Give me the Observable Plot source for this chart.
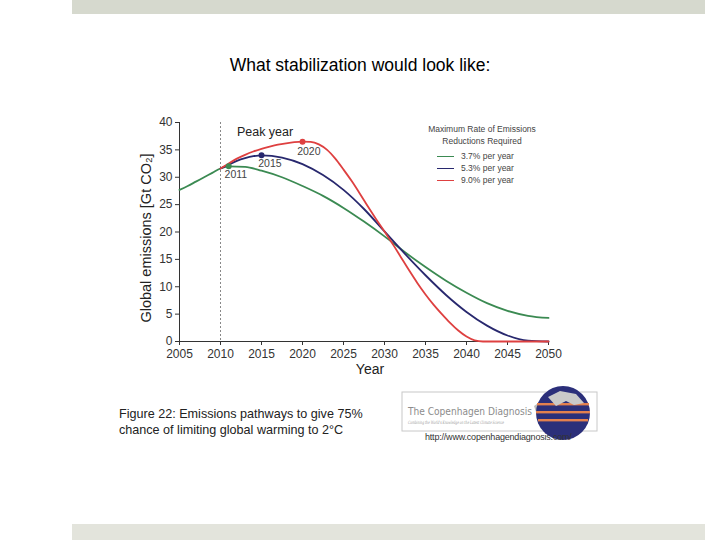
<!DOCTYPE html>
<html><head><meta charset="utf-8">
<script src="https://cdn.jsdelivr.net/npm/d3@7"></script>
<script src="https://cdn.jsdelivr.net/npm/@observablehq/plot@0.6"></script>
<style>
body{margin:0;background:#fff;font-family:"Liberation Sans",Arial,sans-serif;}
#page{position:relative;width:720px;height:540px;overflow:hidden;background:#fff;}
.bar{position:absolute;left:72px;width:633px;}
#title{position:absolute;left:0;width:720px;top:55px;text-align:center;font-size:17.5px;color:#000;}
#chart{position:absolute;left:0;top:100px;}
#legend{position:absolute;left:418px;top:124px;width:128px;font-size:8.5px;color:#444;line-height:11.5px;}
#legend .t{text-align:center;}
#legend .row{position:relative;height:12px;margin-left:19px;}
#legend .sw{position:absolute;left:0;top:5px;width:17px;height:0;border-top:1.6px solid;}
#legend .lb{position:absolute;left:24px;top:0;}
#caption{position:absolute;left:119px;top:406px;font-size:12.6px;line-height:16px;color:#222;}
#logo{position:absolute;left:398px;top:384px;}
#url{position:absolute;left:425px;top:432px;font-size:9px;color:#333;letter-spacing:-0.2px;}
</style></head>
<body><div id="page">
<div class="bar" style="top:0;height:14px;background:#d6d9ce;"></div>
<div class="bar" style="top:524px;height:16px;background:#e3e4dc;"></div>
<div id="title">What stabilization would look like:</div>
<div id="chart"></div>
<div id="legend"></div>
<div id="caption">Figure 22: Emissions pathways to give 75%<br>chance of limiting global warming to 2°C</div>
<svg id="logo" width="205" height="58" viewBox="0 0 205 58">
  <rect x="4" y="8" width="195" height="39" fill="#fff" stroke="#c8c8c8" stroke-width="1"/>
  <text x="10" y="31" font-size="10.5" fill="#8c8c8c" textLength="124" lengthAdjust="spacingAndGlyphs" font-family="DejaVu Sans, sans-serif">The Copenhagen Diagnosis</text>
  <text x="10" y="40" font-size="4.5" fill="#9a9a9a" font-style="italic" textLength="96" lengthAdjust="spacingAndGlyphs" font-family="DejaVu Serif, serif">Combining the World's Knowledge on the Latest Climate Science</text>
  <path d="M136 22 l10 -7 l12 1 l4 8 l-6 6 l-8 -1 l-8 5 z" fill="#bdbdbd"/>
  <circle cx="165" cy="29" r="27" fill="#2b2f7a"/>
  <rect x="139" y="19" width="52" height="2.4" fill="#e3804e"/>
  <rect x="138" y="27" width="54" height="2.4" fill="#e3804e"/>
  <rect x="140" y="35" width="50" height="2.4" fill="#e3804e"/>
  <path d="M150 13 l12 -6 l16 3 l8 9 l-10 2 l-8 -4 l-10 5 z" fill="#c9c9c9"/>
</svg>
<div id="url">http://www.copenhagendiagnosis.com/</div>
</div>
<script>
// Data
const xTicks = [2005, 2010, 2015, 2020, 2025, 2030, 2035, 2040, 2045, 2050];
const yTicks = [0, 5, 10, 15, 20, 25, 30, 35, 40];

const greenYears  = [2005, 2006, 2007, 2008, 2009, 2010, 2011, 2013, 2015, 2017.5, 2020, 2022.5, 2025, 2027.5, 2030, 2032.5, 2035, 2037.5, 2040, 2042.5, 2045, 2047.5, 2050];
const greenValues = [27.7, 28.4, 29.2, 30.0, 30.8, 31.6, 32.0, 31.9, 31.2, 30.0, 28.4, 26.6, 24.4, 21.9, 19.2, 16.3, 13.6, 11.1, 8.9, 7.0, 5.6, 4.7, 4.3];

const blueYears  = [2010, 2011, 2012, 2013, 2014, 2015, 2017.5, 2020, 2022.5, 2025, 2027.5, 2030, 2032.5, 2035, 2037.5, 2040, 2042.5, 2045, 2047.5, 2050];
const blueValues = [31.6, 32.3, 33.0, 33.5, 33.85, 34.0, 33.6, 32.4, 30.4, 27.7, 24.2, 20.1, 16.0, 12.1, 8.5, 5.4, 2.9, 1.1, 0.15, 0];

const redYears  = [2010, 2011, 2012, 2013, 2014, 2015, 2016, 2017, 2018, 2019, 2020, 2021, 2022, 2023, 2024, 2025, 2026, 2027, 2028, 2029, 2030, 2031, 2032, 2033, 2034, 2035, 2036, 2037, 2038, 2039, 2040, 2041, 2042, 2050];
const redValues = [31.6, 32.5, 33.4, 34.1, 34.7, 35.2, 35.6, 35.95, 36.2, 36.4, 36.5, 36.45, 36.0, 35.0, 33.4, 31.4, 29.3, 27.0, 24.6, 22.3, 20.1, 17.8, 15.4, 13.0, 10.7, 8.6, 6.7, 5.0, 3.4, 2.0, 0.9, 0.2, 0, 0];

const seriesNames  = ["3.7% per year", "5.3% per year", "9.0% per year"];
const seriesColors = ["#3b8a52", "#28286e", "#de4040"];
const peakYears  = [2011, 2015, 2020];
const peakValues = [32.0, 34.0, 36.5];
const peakLabelX = [2010.5, 2014.6, 2019.35];
const peakLabelY = [30.4, 32.4, 34.7];
const legendTitle = ["Maximum Rate of Emissions", "Reductions Required"];

const toRows = (xs, vs) => xs.map((x, i) => ({year: x, value: vs[i]}));
const series = [toRows(greenYears, greenValues), toRows(blueYears, blueValues), toRows(redYears, redValues)];
const peaks = peakYears.map((y, i) => ({year: y, value: peakValues[i], color: seriesColors[i], lx: peakLabelX[i], ly: peakLabelY[i], label: String(y)}));

const font = "Liberation Sans, Arial, sans-serif";
const chart = Plot.plot({
  width: 720, height: 300,
  marginLeft: 179, marginRight: 172, marginTop: 22, marginBottom: 59,
  style: {background: "transparent", fontFamily: font, fontSize: "12px", color: "#333", overflow: "visible"},
  x: {domain: [2005, 2050], ticks: xTicks, tickFormat: d => String(d), tickSize: 4, tickPadding: 4, label: null},
  y: {domain: [0, 40], ticks: yTicks, tickSize: 4, tickPadding: 3, label: null},
  marks: [
    Plot.ruleX([2010], {stroke: "#888", strokeDasharray: "2,2", strokeWidth: 1}),
    Plot.ruleY([0], {stroke: "#333"}),
    Plot.ruleX([2005], {stroke: "#333"}),
    ...series.map((s, i) => Plot.line(s, {x: "year", y: "value", stroke: seriesColors[i], strokeWidth: 1.8, curve: "monotone-x"})),
    Plot.dot(peaks, {x: "year", y: "value", fill: "color", r: 3}),
    Plot.text(peaks, {x: "lx", y: "ly", text: "label", textAnchor: "start", fontSize: 10.5, fill: "#444"}),
    Plot.text(["Peak year"], {x: 2012, y: 38.2, text: d => d, textAnchor: "start", fontSize: 12.5, fill: "#222"}),
    Plot.text(["Year"], {frameAnchor: "bottom", text: d => d, dx: 6, dy: 32, fontSize: 14, fill: "#222"}),
    Plot.text(["Global emissions [Gt CO₂]"], {frameAnchor: "left", text: d => d, textAnchor: "middle", rotate: -90, dx: -33, dy: 6, fontSize: 14.5, fill: "#222"})
  ]
});
chart.style.background = "transparent";
document.getElementById("chart").appendChild(chart);

const lg = document.getElementById("legend");
lg.innerHTML = legendTitle.map(t => `<div class="t">${t}</div>`).join("") +
  '<div style="height:4px"></div>' +
  seriesNames.map((n, i) => `<div class="row"><div class="sw" style="border-color:${seriesColors[i]}"></div><div class="lb">${n}</div></div>`).join("");
</script>
</body></html>
